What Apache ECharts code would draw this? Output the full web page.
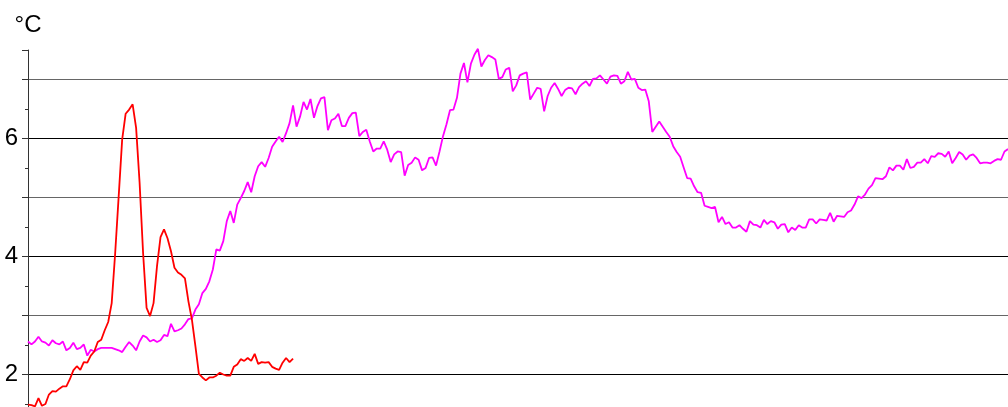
<!DOCTYPE html>
<html>
<head>
<meta charset="utf-8">
<script src="https://cdn.jsdelivr.net/npm/echarts@6/dist/echarts.min.js"></script>
<style>
  html, body { margin: 0; padding: 0; background: #fff; }
  #chart { width: 1008px; height: 407px; }
</style>
</head>
<body>
<div id="chart"></div>
<script>
// temperature readings, one per sample step
const magentaSeries = [
  2.56, 2.51, 2.56, 2.64, 2.56, 2.54, 2.49, 2.58, 2.53, 2.51,
  2.56, 2.41, 2.45, 2.54, 2.43, 2.45, 2.51, 2.32, 2.42, 2.39,
  2.43, 2.45, 2.45, 2.45, 2.45, 2.43, 2.41, 2.38, 2.47, 2.55,
  2.49, 2.41, 2.56, 2.66, 2.63, 2.56, 2.59, 2.55, 2.58, 2.67,
  2.65, 2.86, 2.73, 2.75, 2.78, 2.85, 2.94, 2.95, 3.10, 3.19,
  3.38, 3.45, 3.58, 3.78, 4.12, 4.10, 4.26, 4.60, 4.77, 4.57,
  4.88, 4.99, 5.11, 5.26, 5.09, 5.36, 5.53, 5.60, 5.52, 5.67,
  5.86, 5.95, 6.03, 5.94, 6.09, 6.26, 6.56, 6.20, 6.37, 6.62,
  6.49, 6.67, 6.35, 6.55, 6.68, 6.70, 6.14, 6.31, 6.34, 6.42,
  6.21, 6.21, 6.35, 6.43, 6.44,
  6.04, 6.11, 6.15, 5.95, 5.78, 5.83, 5.83, 5.95, 5.81, 5.60,
  5.73, 5.78, 5.77, 5.37, 5.55, 5.59, 5.68, 5.64, 5.46, 5.50,
  5.67, 5.68, 5.54, 5.78, 6.04, 6.24, 6.48, 6.49, 6.69, 7.10,
  7.28, 6.95, 7.27, 7.42, 7.52, 7.22, 7.33, 7.41, 7.38, 7.34,
  7.01, 7.04, 7.17, 7.20, 6.80, 6.90, 7.07, 7.10, 7.12, 6.66,
  6.76, 6.86, 6.84, 6.46, 6.72, 6.86, 6.94, 6.84, 6.72, 6.82,
  6.86, 6.85, 6.75, 6.87, 6.93, 6.97, 6.89, 7.01, 7.02, 7.07,
  7.00, 6.93, 7.05, 7.07, 7.06, 6.93, 6.97, 7.13, 7.00, 7.01,
  6.86, 6.82, 6.83, 6.63, 6.11, 6.20, 6.29, 6.20, 6.11, 6.03,
  5.87, 5.77, 5.69, 5.51, 5.33, 5.32,
  5.19, 5.09, 5.08, 4.86, 4.84, 4.82, 4.84, 4.58, 4.67, 4.55,
  4.58, 4.49, 4.49, 4.53, 4.47, 4.42, 4.60, 4.54, 4.53, 4.49,
  4.62, 4.55, 4.60, 4.58, 4.47, 4.54, 4.55, 4.41, 4.49, 4.45,
  4.53, 4.49, 4.49, 4.63, 4.63, 4.56, 4.63, 4.62, 4.61, 4.74,
  4.59, 4.69, 4.68, 4.67, 4.75, 4.78, 4.88, 5.02, 4.99, 5.05,
  5.15, 5.21, 5.33, 5.32, 5.31, 5.36, 5.51, 5.46, 5.54, 5.54,
  5.47, 5.65, 5.50, 5.52, 5.59, 5.59, 5.65, 5.58, 5.70, 5.69,
  5.75, 5.74, 5.69, 5.78, 5.58, 5.67, 5.77, 5.73, 5.64, 5.71,
  5.73, 5.67, 5.58, 5.59, 5.59, 5.58, 5.62, 5.65, 5.64, 5.78,
  5.82
]

const redSeries = [
  1.49, 1.48, 1.46, 1.60, 1.47, 1.50, 1.66, 1.72, 1.71, 1.76,
  1.80, 1.80, 1.92, 2.07, 2.14, 2.08, 2.21, 2.20, 2.32, 2.39,
  2.55, 2.59, 2.75, 2.89, 3.21, 4.06, 5.02, 5.98, 6.42, 6.49,
  6.58, 6.18, 5.25, 4.06, 3.13, 2.99, 3.21, 3.84, 4.33, 4.46,
  4.31, 4.09, 3.81, 3.73, 3.69, 3.63, 3.24, 2.93, 2.48, 2.01,
  1.95, 1.90, 1.95, 1.95, 1.98, 2.03, 2.00, 1.98, 1.98, 2.13,
  2.17, 2.26, 2.23, 2.28, 2.23, 2.35, 2.18, 2.21, 2.20, 2.21,
  2.13, 2.10, 2.08, 2.20, 2.28, 2.21, 2.27
]

const yTickLabels = [2, 4, 6]
const steps = magentaSeries.map((v, i) => i)

let myChart = echarts.init(document.getElementById('chart'))

let style = {
    animation: false,
    textStyle: {
        fontFamily: 'Liberation Sans'
    },
    // the plot runs on below the window edge, so the axis min sits out of view
    grid: {
        left: 28,
        right: 0,
        top: 50,
        height: 383.5,
        outerBoundsMode: 'none'
    },
    xAxis: {
        type: 'category',
        show: false,
        boundaryGap: false,
        data: steps
    },
    yAxis: {
        type: 'value',
        min: 1,
        max: 7.5,
        interval: 1,
        name: '°C',
        nameLocation: 'end',
        nameGap: 13,
        nameTextStyle: {
            fontSize: 24,
            color: '#000'
        },
        axisLine: {
            show: true,
            lineStyle: {color: '#333'}
        },
        axisTick: {
            show: true,
            length: 6,
            lineStyle: {color: '#333'}
        },
        minorTick: {
            show: true,
            splitNumber: 2,
            length: 3,
            lineStyle: {color: '#333'}
        },
        axisLabel: {
            fontSize: 24,
            color: '#000',
            margin: 10,
            formatter: v => yTickLabels.includes(v) ? String(v) : ''
        },
        splitLine: {
            show: true,
            showMaxLine: false,
            lineStyle: {
                color: ['#666', '#000'],
                width: 1
            }
        }
    },
    series: [
        {
            name: 'magenta',
            type: 'line',
            data: magentaSeries,
            showSymbol: false,
            clip: false,
            lineStyle: {color: '#ff00ff', width: 1.8},
            itemStyle: {color: '#ff00ff'}
        },
        {
            name: 'red',
            type: 'line',
            data: redSeries,
            showSymbol: false,
            clip: false,
            lineStyle: {color: '#ff0000', width: 1.8},
            itemStyle: {color: '#ff0000'}
        }
    ]
}

myChart.setOption(style)
</script>
</body>
</html>
